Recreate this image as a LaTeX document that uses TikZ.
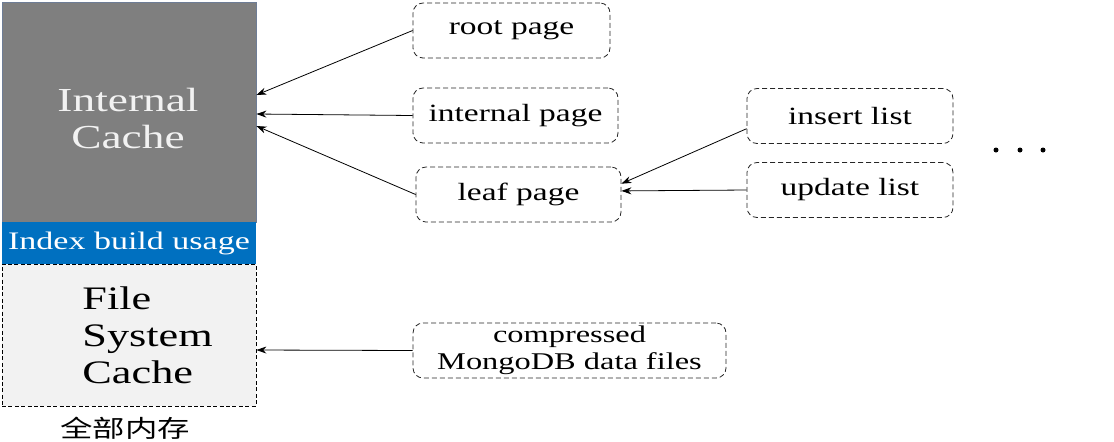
\documentclass[tikz,border=0pt]{standalone}
\usepackage{fontspec}
\setmainfont{Liberation Serif}[FakeStretch=1.35]
\newfontfamily\cjk{Noto Sans CJK SC}[FakeStretch=1.35]
\usepackage{tikz}
\usepackage{xcolor}
\usetikzlibrary{arrows.meta}
\definecolor{cachegray}{RGB}{127,127,127}
\definecolor{cacheedge}{RGB}{110,125,150}
\definecolor{indexblue}{RGB}{0,112,192}
\definecolor{fsgray}{RGB}{242,242,242}

\begin{document}
\begin{tikzpicture}[x=0.5pt, y=-0.5pt, >={Stealth[length=5pt,width=3.5pt]},
  every node/.style={align=center},
  pagebox/.style={draw=black!85, dash pattern=on 2.5pt off 1.5pt, rounded corners=5pt, minimum height=27.5pt, inner sep=0pt, font=\fontsize{12.4}{14}\selectfont}]
  \useasboundingbox (0,0) rectangle (1114,441);

  \node[fill=cachegray, draw=cacheedge, line width=0.4pt, minimum width=127pt, minimum height=110pt, inner sep=0pt] (cache) at (129,112) {};
  \node[text=fsgray, inner sep=0pt, font=\fontsize{16.8}{18.5}\selectfont] (cachetext) at (128,118) {Internal\\Cache};
  \node[fill=indexblue, minimum width=127pt, minimum height=21pt, inner sep=0pt,
        text=white, font=\fontsize{12.6}{14}\selectfont] (index) at (129,243) {Index build usage};
  \node[fill=fsgray, draw, dash pattern=on 2pt off 1.2pt, minimum width=127pt, minimum height=71pt, inner sep=0pt] (fscache) at (129,335) {};
  \node[anchor=west, align=left, inner sep=0pt, font=\fontsize{16.4}{18.5}\selectfont] (fstext) at (82,335) {File\\System\\Cache};
  \node[font=\cjk\fontsize{12}{14}\selectfont] (mem) at (125,428) {全部内存};

  \node[pagebox, minimum width=98.5pt] (root) at (511.5,30.5) {root page};
  \node[pagebox, minimum width=102.5pt] (internal) at (515.5,115.5) {internal page};
  \node[pagebox, minimum width=102.5pt] (leaf) at (518.5,194.5) {leaf page};
  \node[pagebox, minimum width=103pt] (insert) at (850,116) {insert list};
  \node[pagebox, minimum width=103pt] (update) at (850,190) {update list};
  \node[pagebox, minimum width=156.5pt, font=\fontsize{12}{13.5}\selectfont] (files) at (569.5,350.5) {compressed\\MongoDB data files};

  \draw[->] (root.west) -- ([yshift=8.5pt]cache.east);
  \draw[->] (internal.west) -- ([yshift=-1pt]cache.east);
  \draw[->] (leaf.west) -- ([yshift=-7pt]cache.east);
  \draw[->] (insert.187) -- (leaf.6);
  \draw[->] (update.west) -- (leaf.2.5);
  \draw[->] (files.west) -- ([yshift=-7.5pt]fscache.east);

  \foreach \x in {996,1020,1043}
    \fill (\x,150) circle (2.5);
\end{tikzpicture}
\end{document}
